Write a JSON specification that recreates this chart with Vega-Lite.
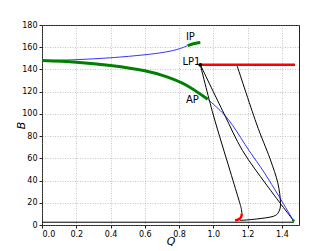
{
  "$schema": "https://vega.github.io/schema/vega-lite/v6.json",
  "autosize": {"type": "none"},
  "padding": {"left": 42, "top": 25, "right": 33, "bottom": 26},
  "width": 257,
  "height": 200,
  "background": "white",
  "config": {
    "view": {"stroke": "#222", "strokeWidth": 1},
    "font": "DejaVu Sans",
    "axis": {
      "labelFont": "DejaVu Sans", "labelFontSize": 8, "labelColor": "#000",
      "grid": true, "gridColor": "#888", "gridDash": [1, 1.5], "gridWidth": 0.5,
      "domain": false, "tickColor": "#222", "tickSize": 3,
      "titleFont": "DejaVu Sans", "titleFontStyle": "italic", "titleFontWeight": "normal", "titleFontSize": 11, "titleColor": "#000"
    }
  },
  "datasets": {
    "curves": [
      {"s": "up", "o": 0, "Q": 0, "B": 148},
      {"s": "up", "o": 1, "Q": 0.2, "B": 148.8},
      {"s": "up", "o": 2, "Q": 0.4, "B": 150.5},
      {"s": "up", "o": 3, "Q": 0.6, "B": 153.2},
      {"s": "up", "o": 4, "Q": 0.725, "B": 155.8},
      {"s": "up", "o": 5, "Q": 0.8, "B": 158.5},
      {"s": "up", "o": 6, "Q": 0.85, "B": 161.5},
      {"s": "lowb", "o": 0, "Q": 0.967, "B": 113.3},
      {"s": "lowb", "o": 1, "Q": 1.051, "B": 101.3},
      {"s": "lowb", "o": 2, "Q": 1.113, "B": 89.6},
      {"s": "lowb", "o": 3, "Q": 1.208, "B": 67.1},
      {"s": "lowb", "o": 4, "Q": 1.296, "B": 47.5},
      {"s": "lowb", "o": 5, "Q": 1.384, "B": 25.5},
      {"s": "lowb", "o": 6, "Q": 1.467, "B": 4.1}
    ],
    "green": [
      {"s": "ipg", "o": 0, "Q": 0.85, "B": 161.5},
      {"s": "ipg", "o": 1, "Q": 0.89, "B": 163.4},
      {"s": "ipg", "o": 2, "Q": 0.924, "B": 164.3},
      {"s": "lowg", "o": 0, "Q": 0, "B": 148},
      {"s": "lowg", "o": 1, "Q": 0.2, "B": 146.5},
      {"s": "lowg", "o": 2, "Q": 0.4, "B": 143.5},
      {"s": "lowg", "o": 3, "Q": 0.6, "B": 138.8},
      {"s": "lowg", "o": 4, "Q": 0.725, "B": 133.5},
      {"s": "lowg", "o": 5, "Q": 0.84, "B": 126},
      {"s": "lowg", "o": 6, "Q": 0.967, "B": 113.2}
    ],
    "red": [
      {"s": "r1", "o": 0, "Q": 0.924, "B": 144.2},
      {"s": "r1", "o": 1, "Q": 1.477, "B": 144.2},
      {"s": "r2", "o": 0, "Q": 1.166, "B": 10.4},
      {"s": "r2", "o": 1, "Q": 1.164, "B": 8.0},
      {"s": "r2", "o": 2, "Q": 1.153, "B": 5.5},
      {"s": "r2", "o": 3, "Q": 1.127, "B": 4.0}
    ],
    "black": [
      {"s": "k1", "o": 0, "Q": 0.924, "B": 144.2},
      {"s": "k1", "o": 1, "Q": 1.0, "B": 99},
      {"s": "k1", "o": 2, "Q": 1.097, "B": 49.1},
      {"s": "k1", "o": 3, "Q": 1.15, "B": 22},
      {"s": "k1", "o": 4, "Q": 1.164, "B": 14},
      {"s": "k1", "o": 5, "Q": 1.166, "B": 10.4},
      {"s": "k2", "o": 0, "Q": 0.924, "B": 144.2},
      {"s": "k2", "o": 1, "Q": 1.062, "B": 100.3},
      {"s": "k2", "o": 2, "Q": 1.17, "B": 67.1},
      {"s": "k2", "o": 3, "Q": 1.313, "B": 35.6},
      {"s": "k2", "o": 4, "Q": 1.467, "B": 4.1},
      {"s": "k3", "o": 0, "Q": 1.137, "B": 144.2},
      {"s": "k3", "o": 1, "Q": 1.25, "B": 92},
      {"s": "k3", "o": 2, "Q": 1.33, "B": 60},
      {"s": "k3", "o": 3, "Q": 1.376, "B": 38},
      {"s": "k3", "o": 4, "Q": 1.392, "B": 20.0},
      {"s": "k3", "o": 5, "Q": 1.382, "B": 12.0},
      {"s": "k3", "o": 6, "Q": 1.35, "B": 7.8},
      {"s": "k3", "o": 7, "Q": 1.253, "B": 5.4},
      {"s": "k3", "o": 8, "Q": 1.156, "B": 4.1},
      {"s": "base", "o": 0, "Q": 0, "B": 2.5},
      {"s": "base", "o": 1, "Q": 1.47, "B": 2.5}
    ],
    "labels": [
      {"t": "IP", "Q": 0.84, "B": 169.5},
      {"t": "LP1", "Q": 0.82, "B": 147},
      {"t": "AP", "Q": 0.84, "B": 112.5}
    ],
    "pts": [
      {"n": "LP1", "Q": 0.924, "B": 144.2}
    ],
    "endpt": [
      {"Q": 1.467, "B": 4.0}
    ]
  },
  "encoding": {
    "x": {"field": "Q", "type": "quantitative", "title": "Q",
          "scale": {"domain": [0, 1.5], "nice": false, "zero": false},
          "axis": {"values": [0, 0.2, 0.4, 0.6, 0.8, 1.0, 1.2, 1.4], "format": ".1f", "labelPadding": 2, "titleY": 16, "titleBaseline": "middle"}},
    "y": {"field": "B", "type": "quantitative", "title": "B",
          "scale": {"domain": [0, 180], "nice": false, "zero": false},
          "axis": {"values": [0, 20, 40, 60, 80, 100, 120, 140, 160, 180], "labelPadding": 2, "titleX": -21, "titleY": 100, "titleBaseline": "middle"}}
  },
  "layer": [
    {"data": {"name": "black"}, "mark": {"type": "line", "color": "#000", "strokeWidth": 1, "clip": true, "interpolate": "cardinal"},
     "encoding": {"detail": {"field": "s"}, "order": {"field": "o", "type": "quantitative"}}},
    {"data": {"name": "curves"}, "mark": {"type": "line", "color": "#0000ff", "strokeWidth": 0.8, "clip": true, "interpolate": "cardinal"},
     "encoding": {"detail": {"field": "s"}, "order": {"field": "o", "type": "quantitative"}}},
    {"data": {"name": "green"}, "mark": {"type": "line", "color": "#008000", "strokeWidth": 3, "clip": true, "interpolate": "cardinal"},
     "encoding": {"detail": {"field": "s"}, "order": {"field": "o", "type": "quantitative"}}},
    {"data": {"name": "red"}, "mark": {"type": "line", "color": "#ff0000", "strokeWidth": 2.5, "clip": true, "interpolate": "cardinal"},
     "encoding": {"detail": {"field": "s"}, "order": {"field": "o", "type": "quantitative"}}},
    {"data": {"name": "pts"}, "mark": {"type": "point", "filled": true, "color": "#000", "size": 14, "opacity": 1}},
    {"data": {"name": "endpt"}, "mark": {"type": "point", "filled": true, "color": "#008000", "size": 8, "opacity": 1}},
    {"data": {"name": "labels"}, "mark": {"type": "text", "align": "left", "baseline": "middle", "fontSize": 10, "font": "DejaVu Sans", "color": "#000"},
     "encoding": {"text": {"field": "t"}}}
  ]
}
